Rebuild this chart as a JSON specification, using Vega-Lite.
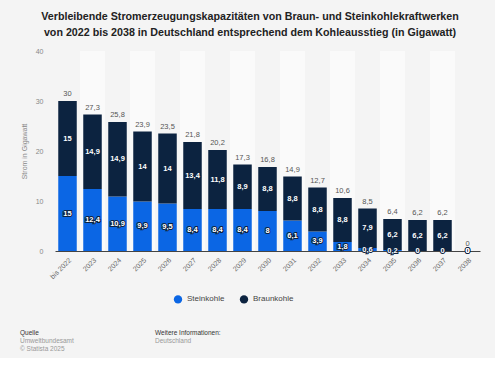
{
  "$schema": "https://vega.github.io/schema/vega-lite/v6.json",
  "background": "#f4f4f4",
  "padding": {"left": 20, "top": 11, "right": 15, "bottom": 5},
  "config": {
    "locale": {"number": {"decimal": ",", "thousands": ".", "grouping": [3], "currency": ["", " €"]}},
    "font": "Liberation Sans",
    "view": {"stroke": null}
  },
  "title": {
    "text": ["Verbleibende Stromerzeugungskapazitäten von Braun- und Steinkohlekraftwerken", "von 2022 bis 2038 in Deutschland entsprechend dem Kohleausstieg (in Gigawatt)"],
    "fontSize": 10.7, "fontWeight": "bold", "color": "#222", "lineHeight": 16, "anchor": "middle", "offset": 8
  },
  "datasets": {
    "kohle": [
      {"jahr": "bis 2022", "typ": "Steinkohle", "wert": 15},
      {"jahr": "bis 2022", "typ": "Braunkohle", "wert": 15},
      {"jahr": "2023", "typ": "Steinkohle", "wert": 12.4},
      {"jahr": "2023", "typ": "Braunkohle", "wert": 14.9},
      {"jahr": "2024", "typ": "Steinkohle", "wert": 10.9},
      {"jahr": "2024", "typ": "Braunkohle", "wert": 14.9},
      {"jahr": "2025", "typ": "Steinkohle", "wert": 9.9},
      {"jahr": "2025", "typ": "Braunkohle", "wert": 14},
      {"jahr": "2026", "typ": "Steinkohle", "wert": 9.5},
      {"jahr": "2026", "typ": "Braunkohle", "wert": 14},
      {"jahr": "2027", "typ": "Steinkohle", "wert": 8.4},
      {"jahr": "2027", "typ": "Braunkohle", "wert": 13.4},
      {"jahr": "2028", "typ": "Steinkohle", "wert": 8.4},
      {"jahr": "2028", "typ": "Braunkohle", "wert": 11.8},
      {"jahr": "2029", "typ": "Steinkohle", "wert": 8.4},
      {"jahr": "2029", "typ": "Braunkohle", "wert": 8.9},
      {"jahr": "2030", "typ": "Steinkohle", "wert": 8},
      {"jahr": "2030", "typ": "Braunkohle", "wert": 8.8},
      {"jahr": "2031", "typ": "Steinkohle", "wert": 6.1},
      {"jahr": "2031", "typ": "Braunkohle", "wert": 8.8},
      {"jahr": "2032", "typ": "Steinkohle", "wert": 3.9},
      {"jahr": "2032", "typ": "Braunkohle", "wert": 8.8},
      {"jahr": "2033", "typ": "Steinkohle", "wert": 1.8},
      {"jahr": "2033", "typ": "Braunkohle", "wert": 8.8},
      {"jahr": "2034", "typ": "Steinkohle", "wert": 0.6},
      {"jahr": "2034", "typ": "Braunkohle", "wert": 7.9},
      {"jahr": "2035", "typ": "Steinkohle", "wert": 0.2},
      {"jahr": "2035", "typ": "Braunkohle", "wert": 6.2},
      {"jahr": "2036", "typ": "Steinkohle", "wert": 0},
      {"jahr": "2036", "typ": "Braunkohle", "wert": 6.2},
      {"jahr": "2037", "typ": "Steinkohle", "wert": 0},
      {"jahr": "2037", "typ": "Braunkohle", "wert": 6.2},
      {"jahr": "2038", "typ": "Steinkohle", "wert": 0},
      {"jahr": "2038", "typ": "Braunkohle", "wert": 0}
    ],
    "quelle": [
      {"spalte": "a", "zeile": 1, "text": "Quelle"},
      {"spalte": "a", "zeile": 2, "text": "Umweltbundesamt"},
      {"spalte": "a", "zeile": 3, "text": "© Statista 2025"},
      {"spalte": "b", "zeile": 1, "text": "Weitere Informationen:"},
      {"spalte": "b", "zeile": 2, "text": "Deutschland"}
    ]
  },
  "columns": 1,
  "align": "none",
  "spacing": 25,
  "resolve": {"legend": {"color": "independent"}},
  "concat": [
    {
      "width": 425,
      "height": 200,
      "data": {"name": "kohle"},
      "encoding": {
        "x": {
          "field": "jahr", "type": "nominal", "sort": null,
          "scale": {"domain": ["bis 2022", "2023", "2024", "2025", "2026", "2027", "2028", "2029", "2030", "2031", "2032", "2033", "2034", "2035", "2036", "2037", "2038"], "paddingInner": 0.26, "paddingOuter": 0.13},
          "axis": {"title": null, "labelAngle": -45, "labelColor": "#666", "labelFontSize": 7, "ticks": false, "domain": true, "domainColor": "#444", "labelPadding": 5}
        }
      },
      "layer": [
        {
          "transform": [
            {"filter": "datum.typ === 'Steinkohle'"},
            {"window": [{"op": "row_number", "as": "rn"}]},
            {"filter": "datum.rn % 2 === 0"}
          ],
          "mark": {"type": "bar", "color": "#ffffff", "opacity": 0.55, "width": {"band": 1.3514}},
          "encoding": {
            "y": {"datum": 40, "type": "quantitative"},
            "y2": {"datum": 0}
          }
        },
        {
          "mark": {"type": "bar"},
          "encoding": {
            "y": {
              "field": "wert", "type": "quantitative", "stack": "zero",
              "scale": {"domain": [0, 40]},
              "axis": {"title": "Strom in Gigawatt", "titleColor": "#888", "titleFontSize": 7, "titleFontWeight": "normal", "titlePadding": 8, "labelColor": "#888", "labelFontSize": 7, "values": [0, 10, 20, 30, 40], "domain": false, "ticks": false, "gridColor": "#e4e4e4", "labelPadding": 12}
            },
            "color": {
              "field": "typ", "type": "nominal",
              "scale": {"domain": ["Steinkohle", "Braunkohle"], "range": ["#0b66e4", "#0c2340"]},
              "legend": {"orient": "none", "direction": "horizontal", "legendX": 118, "legendY": 243, "title": null, "symbolType": "circle", "labelColor": "#444", "labelFontSize": 8, "symbolSize": 70, "columnPadding": 14}
            },
            "order": {"field": "typ", "sort": "descending"}
          }
        },
        {
          "transform": [
            {"stack": "wert", "groupby": ["jahr"], "sort": [{"field": "typ", "order": "descending"}], "as": ["y0", "y1"]},
            {"calculate": "(datum.y0 + datum.y1) / 2", "as": "mitte"}
          ],
          "layer": [
            {
              "mark": {"type": "text", "fontSize": 7.5, "fontWeight": "bold", "color": "#0c2340", "stroke": "#0c2340", "strokeWidth": 2, "baseline": "middle"},
              "encoding": {
                "y": {"field": "mitte", "type": "quantitative"},
                "text": {"field": "wert", "type": "quantitative", "format": ".1~f"}
              }
            },
            {
              "mark": {"type": "text", "fontSize": 7.5, "fontWeight": "bold", "color": "#ffffff", "baseline": "middle"},
              "encoding": {
                "y": {"field": "mitte", "type": "quantitative"},
                "text": {"field": "wert", "type": "quantitative", "format": ".1~f"}
              }
            }
          ]
        },
        {
          "mark": {"type": "text", "fontSize": 7.5, "color": "#555", "dy": -7, "baseline": "middle"},
          "encoding": {
            "y": {"aggregate": "sum", "field": "wert", "type": "quantitative"},
            "text": {"aggregate": "sum", "field": "wert", "type": "quantitative", "format": ".1~f"}
          }
        }
      ]
    },
    {
      "width": 270,
      "height": 24,
      "data": {"name": "quelle"},
      "encoding": {
        "x": {"field": "spalte", "type": "nominal", "axis": null, "scale": {"paddingInner": 0, "paddingOuter": 0, "align": 0}},
        "y": {"field": "zeile", "type": "ordinal", "axis": null, "scale": {"paddingInner": 0, "paddingOuter": 0}},
        "text": {"field": "text", "type": "nominal"}
      },
      "layer": [
        {
          "transform": [{"filter": "datum.zeile === 1"}],
          "mark": {"type": "text", "align": "left", "baseline": "middle", "fontSize": 6.5, "color": "#333", "dx": -35}
        },
        {
          "transform": [{"filter": "datum.zeile > 1"}],
          "mark": {"type": "text", "align": "left", "baseline": "middle", "fontSize": 6.5, "color": "#999", "dx": -35}
        }
      ]
    }
  ]
}
